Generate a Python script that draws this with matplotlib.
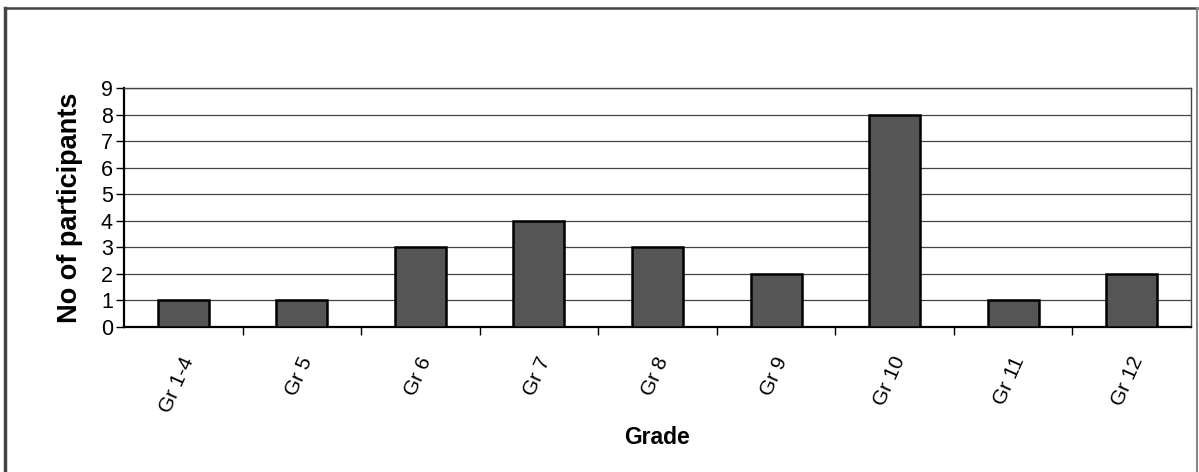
import matplotlib.pyplot as plt
import matplotlib.transforms as mtransforms
from matplotlib.lines import Line2D

plt.rcParams['font.family'] = ['Liberation Sans', 'DejaVu Sans']

grades = ["Gr 1-4", "Gr 5", "Gr 6", "Gr 7", "Gr 8", "Gr 9", "Gr 10", "Gr 11", "Gr 12"]
participants = [1, 1, 3, 4, 3, 2, 8, 1, 2]
y_ticks = list(range(0, 10))

BAR_COLOR = "#555555"

fig = plt.figure(figsize=(11.99, 4.72), dpi=100)
ax = fig.add_axes([0.1034, 0.3072, 0.8899, 0.5064])

x = list(range(len(grades)))
ax.bar(x, participants, width=0.43, color=BAR_COLOR, edgecolor="black", linewidth=1.8, zorder=3)

ax.set_xlim(-0.5, len(grades) - 0.5)
ax.set_ylim(0, 9)
ax.set_yticks(y_ticks)
ax.set_yticklabels([str(v) for v in y_ticks], fontsize=15.5)
ax.yaxis.grid(True, color="#444444", linewidth=0.9, zorder=0)
ax.tick_params(axis="y", direction="out", length=6, width=1, pad=2)

# category labels at centres, tick marks at the boundaries
ax.set_xticks(x)
ax.set_xticklabels(grades, rotation=66, ha="right", va="center",
                   rotation_mode="anchor", fontsize=15)
ax.tick_params(axis="x", which="major", length=0, pad=22)
shift = mtransforms.ScaledTranslation(6 / 100, 0, fig.dpi_scale_trans)
for lbl in ax.get_xticklabels():
    lbl.set_transform(lbl.get_transform() + shift)
ax.set_xticks([i + 0.5 for i in x[:-1]], minor=True)
ax.tick_params(axis="x", which="minor", direction="out", length=6, width=1)

for side in ["left", "bottom"]:
    ax.spines[side].set_linewidth(1.6)
    ax.spines[side].set_color("black")
for side in ["top", "right"]:
    ax.spines[side].set_linewidth(1.0)
    ax.spines[side].set_color("#444444")

ax.set_ylabel("No of participants", fontsize=19.5, fontweight="bold", labelpad=13)
fig.text(0.548, 0.074, "Grade", fontsize=16.5, fontweight="bold", ha="center", va="center")

# outer chart border (open at the bottom, as in the scan)
fig.add_artist(Line2D([0.0045, 0.0045], [0, 0.983], color="#444444", linewidth=2.5))
fig.add_artist(Line2D([0.0045, 0.998], [0.983, 0.983], color="#444444", linewidth=1.8))
fig.add_artist(Line2D([0.998, 0.998], [0, 0.983], color="#888888", linewidth=1.5))

fig.savefig("out.png", dpi=100)
